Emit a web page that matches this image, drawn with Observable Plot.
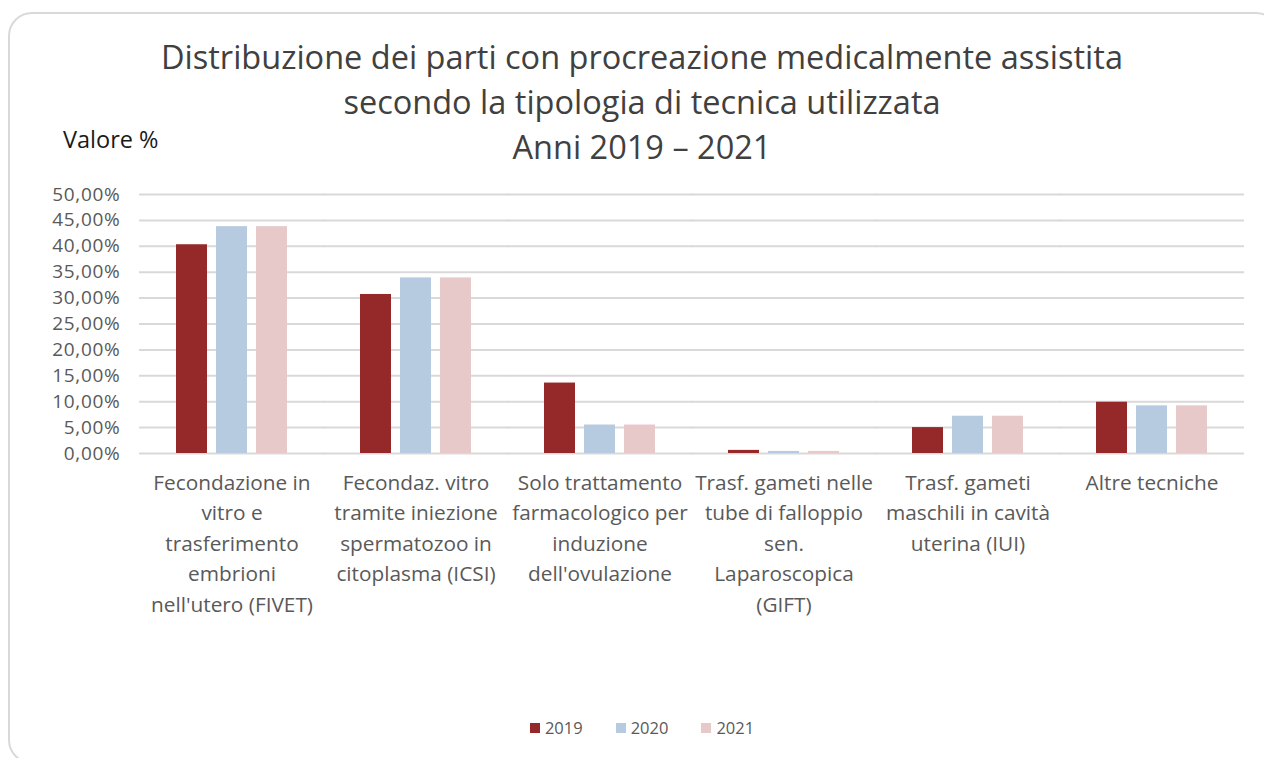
<!DOCTYPE html>
<html>
<head>
<meta charset="utf-8">
<script src="https://cdn.jsdelivr.net/npm/d3@7"></script>
<script src="https://cdn.jsdelivr.net/npm/@observablehq/plot@0.6"></script>
<style>
  html, body { margin: 0; padding: 0; background: #fff; width: 1264px; height: 758px; overflow: hidden; font-family: "Open Sans", Lato, sans-serif; }
  #frame { position: absolute; left: 8px; top: 12px; width: 1272px; height: 752px; border: 2px solid #d9d9d9; border-radius: 24px; box-sizing: border-box; }
  #title { position: absolute; left: 0; width: 1284px; top: 34px; text-align: center; font-size: 32.5px; line-height: 45px; color: #404040; }
  #ylab { position: absolute; left: 63px; top: 123px; font-size: 23.5px; color: #1a1a1a; }
  #chart { position: absolute; left: 0; top: 170px; }
  #legend { position: absolute; left: 0; width: 1284px; top: 716px; display: flex; justify-content: center; gap: 33px; font-size: 16.5px; color: #595959; }
  #legend span.item { display: flex; align-items: center; gap: 5px; }
  #legend span.sw { width: 10px; height: 10px; display: inline-block; }
  .yax text { letter-spacing: 0.7px; }
</style>
</head>
<body>
<div id="frame"></div>
<div id="title">Distribuzione dei parti con procreazione medicalmente assistita<br>secondo la tipologia di tecnica utilizzata<br>Anni 2019 – 2021</div>
<div id="ylab">Valore %</div>
<div id="chart"></div>
<div id="legend"></div>
<script>
const categories = [
  "Fecondazione in\nvitro e\ntrasferimento\nembrioni\nnell'utero (FIVET)",
  "Fecondaz. vitro\ntramite iniezione\nspermatozoo in\ncitoplasma (ICSI)",
  "Solo trattamento\nfarmacologico per\ninduzione\ndell'ovulazione",
  "Trasf. gameti nelle\ntube di falloppio\nsen.\nLaparoscopica\n(GIFT)",
  "Trasf. gameti\nmaschili in cavità\nuterina (IUI)",
  "Altre tecniche"
];
const years = ["2019", "2020", "2021"];
const values2019 = [40.3, 30.7, 13.6, 0.6, 5.0, 9.9];
const values2020 = [43.8, 33.9, 5.5, 0.4, 7.2, 9.2];
const values2021 = [43.8, 33.9, 5.5, 0.4, 7.2, 9.2];
const colors = ["#952828", "#b7cbe0", "#e8c9ca"];
const yTicks = [0, 5, 10, 15, 20, 25, 30, 35, 40, 45, 50];

const series = [values2019, values2020, values2021];
const data = [];
categories.forEach((c, i) => years.forEach((y, j) => data.push({cat: c, year: y, value: series[j][i]})));

const fmt = d => d.toFixed(2).replace(".", ",") + "%";

const chart = Plot.plot({
  width: 1264,
  height: 460,
  marginTop: 24,
  marginLeft: 140,
  marginRight: 21,
  marginBottom: 177,
  style: {fontFamily: "'Open Sans', Lato, sans-serif", fontSize: "21px", color: "#595959", background: "transparent"},
  fx: {domain: categories, paddingInner: 0.386, paddingOuter: 0.19},
  x: {domain: years, paddingInner: 0.22, paddingOuter: 0, axis: null},
  y: {domain: [0, 50], axis: null},
  color: {domain: years, range: colors},
  marks: [
    Plot.ruleY(yTicks, {stroke: "#d9d9d9", strokeWidth: 2, insetLeft: -36, insetRight: -36}),
    Plot.barY(data, {fx: "cat", x: "year", y: "value", fill: "year"}),
    Plot.axisY(yTicks, {tickSize: 0, tickPadding: 55, tickFormat: fmt, fontSize: 19, label: null, className: "yax"}),
    Plot.axisFx({anchor: "bottom", tickSize: 0, tickPadding: 15, fontSize: 20.8, lineHeight: 1.46, label: null})
  ]
});
document.getElementById("chart").appendChild(chart);

const legend = document.getElementById("legend");
years.forEach((y, i) => {
  const it = document.createElement("span");
  it.className = "item";
  const sw = document.createElement("span");
  sw.className = "sw";
  sw.style.background = colors[i];
  it.appendChild(sw);
  it.appendChild(document.createTextNode(y));
  legend.appendChild(it);
});
</script>
</body>
</html>
